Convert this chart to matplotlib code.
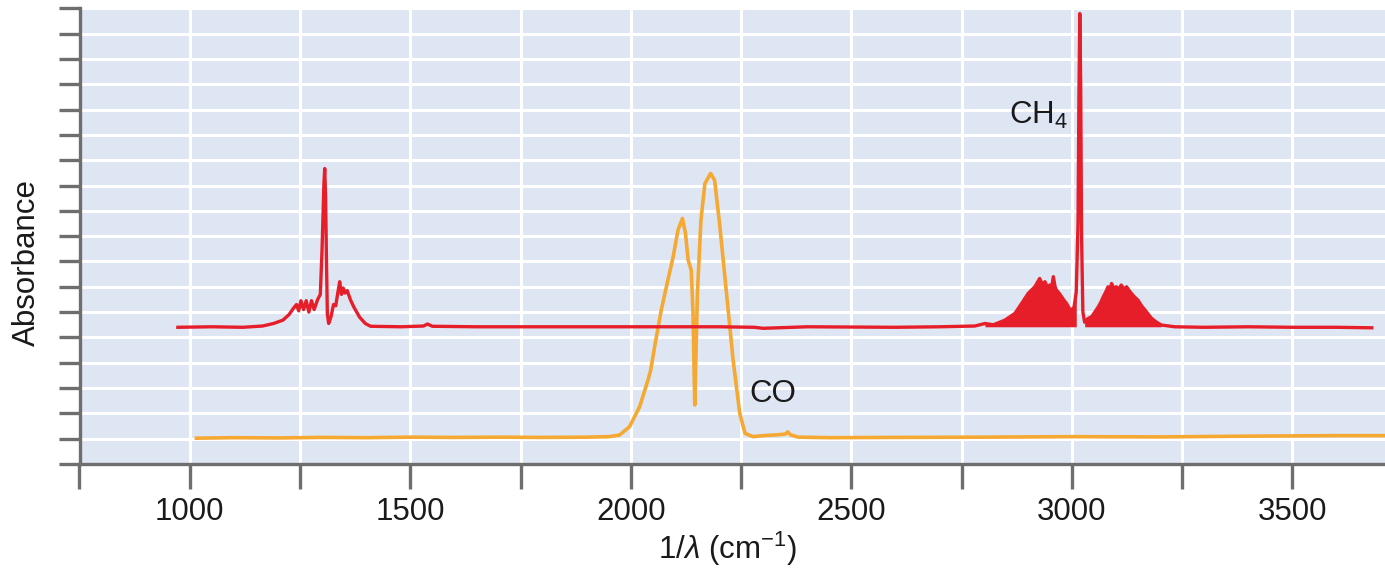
import matplotlib
matplotlib.use("Agg")
import matplotlib.pyplot as plt
import numpy as np

plt.rcParams['font.family'] = ['Liberation Sans', 'DejaVu Sans']
plt.rcParams['mathtext.fontset'] = 'custom'
plt.rcParams['mathtext.rm'] = 'Liberation Sans'
plt.rcParams['mathtext.it'] = 'Liberation Sans:italic'

# ---- data (wavenumber cm^-1, absorbance in arbitrary grid units) ----
ch4_x = [973, 1050, 1120, 1165, 1190, 1211, 1225, 1235, 1242, 1247, 1252, 1258, 1264,
         1270, 1276, 1282, 1290, 1296, 1300, 1304, 1306, 1308, 1310, 1312, 1315, 1320,
         1326, 1331, 1336, 1340, 1344, 1348, 1352, 1357, 1364, 1372, 1385, 1398, 1410,
         1480, 1530, 1539, 1550, 1650, 1800, 2000, 2200, 2280, 2300, 2400, 2600, 2700,
         2780, 2803, 2822, 2848, 2871, 2886, 2901, 2916, 2927, 2933, 2939, 2944, 2950,
         2954, 2958, 2962, 2965, 2971, 2977, 2983, 2988, 2994, 2999, 3005, 3010, 3014,
         3016, 3018, 3020, 3022, 3025, 3029, 3037, 3045, 3052, 3060, 3066, 3071, 3077,
         3082, 3087, 3090, 3095, 3101, 3106, 3112, 3118, 3124, 3130, 3135, 3142, 3150,
         3158, 3166, 3174, 3181, 3192, 3203, 3233, 3300, 3400, 3500, 3600, 3680]
ch4_y = [5.40, 5.42, 5.40, 5.45, 5.55, 5.68, 5.90, 6.15, 6.30, 6.05, 6.45, 6.10, 6.45,
         6.00, 6.45, 6.10, 6.50, 6.70, 8.50, 11.0, 11.67, 10.5, 8.0, 5.90, 5.55, 5.80,
         6.30, 6.25, 6.80, 7.20, 6.70, 6.95, 6.75, 6.85, 6.50, 6.20, 5.80, 5.55, 5.44,
         5.42, 5.45, 5.53, 5.44, 5.42, 5.42, 5.42, 5.42, 5.40, 5.36, 5.42, 5.40, 5.42,
         5.45, 5.55, 5.50, 5.68, 5.95, 6.34, 6.74, 7.00, 7.33, 7.10, 7.20, 7.00, 7.07,
         6.95, 7.40, 7.00, 6.87, 6.75, 6.60, 6.45, 6.34, 6.15, 6.08, 6.20, 6.80, 9.50,
         14.5, 17.79, 15.0, 9.0, 6.00, 5.60, 5.75, 5.82, 6.00, 6.21, 6.40, 6.60, 6.80,
         7.00, 6.90, 7.13, 6.95, 7.00, 6.90, 7.07, 6.90, 7.00, 6.85, 6.74, 6.60, 6.47,
         6.25, 6.08, 5.90, 5.75, 5.60, 5.49, 5.42, 5.40, 5.42, 5.40, 5.40, 5.38]

# CH4 rotational-band fill regions (filled look of dense lines)
band_p_x = [2803, 2822, 2848, 2871, 2886, 2901, 2916, 2927, 2933, 2939, 2944, 2950,
            2954, 2958, 2962, 2965, 2971, 2977, 2983, 2988, 2994, 2999, 3005, 3010]
band_r_x = [3029, 3037, 3045, 3052, 3060, 3066, 3071, 3077, 3082, 3087, 3090, 3095,
            3101, 3106, 3112, 3118, 3124, 3130, 3135, 3142, 3150, 3158, 3166, 3174,
            3181, 3192, 3203]
band_floor = 5.42

co_x = [1015, 1100, 1200, 1300, 1400, 1500, 1600, 1700, 1800, 1900, 1950, 1974, 1997,
        2020, 2039, 2045, 2054, 2069, 2084, 2096, 2107, 2117, 2124, 2130, 2137, 2141,
        2145, 2148, 2151, 2159, 2168, 2181, 2190, 2202, 2217, 2232, 2247, 2259, 2277,
        2300, 2330, 2350, 2356, 2362, 2380, 2450, 2600, 2800, 3000, 3200, 3400, 3600, 3710]
co_y = [1.02, 1.04, 1.03, 1.05, 1.04, 1.06, 1.05, 1.06, 1.05, 1.06, 1.08, 1.14, 1.47,
        2.26, 3.32, 3.70, 4.63, 6.08, 7.26, 8.18, 9.24, 9.70, 9.11, 8.05, 7.66, 6.00,
        2.33, 4.50, 6.74, 9.63, 11.08, 11.48, 11.21, 9.37, 6.74, 4.10, 2.00, 1.21, 1.08,
        1.12, 1.15, 1.18, 1.27, 1.15, 1.06, 1.04, 1.05, 1.06, 1.08, 1.07, 1.10, 1.12, 1.12]

x_major = [750, 1000, 1250, 1500, 1750, 2000, 2250, 2500, 2750, 3000, 3250, 3500]
x_labels = ['', '1000', '', '1500', '', '2000', '', '2500', '', '3000', '', '3500']
y_ticks = list(range(0, 19))

red = '#e61e2a'
orange = '#f5a832'
spine_col = '#6e6e6e'
bg = '#dfe6f3'
txt = '#1a1a1a'
fs = 22.5

fig = plt.figure(figsize=(13.85, 5.71), dpi=100)
ax = fig.add_axes([79.5 / 1385, 107 / 571, 1 - 79.5 / 1385, (464 - 8.3) / 571])
ax.set_facecolor(bg)
ax.set_xlim(750, 3710)
ax.set_ylim(0, 18)

ax.set_xticks(x_major)
ax.set_xticklabels(x_labels)
ax.set_yticks(y_ticks)
ax.set_yticklabels([])
ax.grid(True, color='white', linewidth=2.2)
ax.set_axisbelow(True)

for s in ['top', 'right']:
    ax.spines[s].set_visible(False)
for s in ['left', 'bottom']:
    ax.spines[s].set_color(spine_col)
    ax.spines[s].set_linewidth(2.4)

ax.tick_params(axis='x', direction='out', length=18, width=2.4, color=spine_col,
               labelsize=fs, labelcolor=txt, pad=6)
ax.tick_params(axis='y', direction='out', length=15, width=2.4, color=spine_col)

cx = np.array(ch4_x, dtype=float)
cy = np.array(ch4_y, dtype=float)
for bx in (band_p_x, band_r_x):
    idx = [ch4_x.index(v) for v in bx]
    ax.fill_between(cx[idx], band_floor, cy[idx], color=red, linewidth=0, zorder=3)

ax.plot(co_x, co_y, color=orange, linewidth=2.6, zorder=3, solid_joinstyle='round')
ax.plot(ch4_x, ch4_y, color=red, linewidth=2.4, zorder=4, solid_joinstyle='round')

ax.text(2992, 13.45, 'CH$_4$', ha='right', va='baseline', fontsize=fs, color=txt, zorder=5)
ax.text(2268, 2.46, 'CO', ha='left', va='baseline', fontsize=fs, color=txt, zorder=5)

fig.text(27 / 1385, 1 - 262 / 571, 'Absorbance', rotation=90, ha='center', va='center',
         fontsize=fs, color=txt)
fig.text(727 / 1385, 1 - 549 / 571, '1/$\\mathit{\\lambda}$ (cm$^{-1}$)', ha='center', va='center',
         fontsize=fs, color=txt)

fig.savefig('out.png', dpi=100)
